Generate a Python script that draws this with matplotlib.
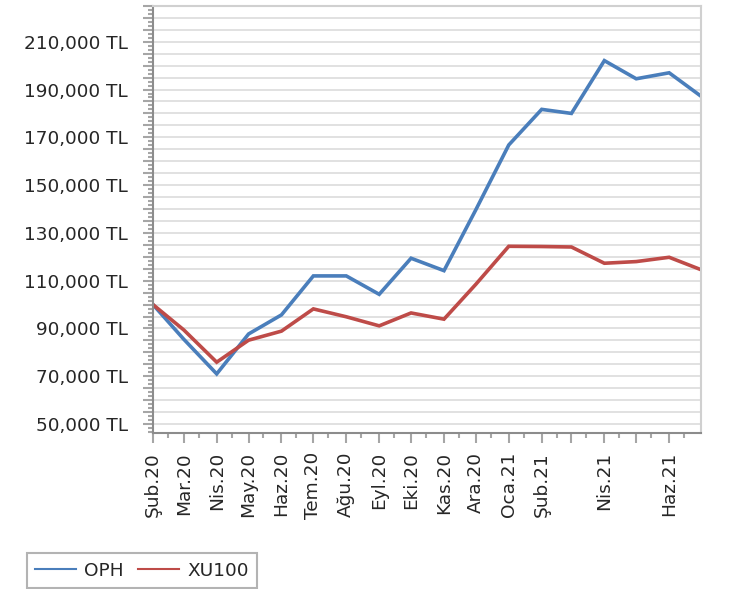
#!/usr/bin/env python3
"""OPH vs XU100 monthly performance, indexed to 100,000 TL."""

import matplotlib

matplotlib.use("Agg")

import matplotlib.dates as mdates
import matplotlib.pyplot as plt
import numpy as np
from matplotlib.ticker import FixedLocator, FuncFormatter, MultipleLocator

MONTHS = [
    "2020-02-01", "2020-03-01", "2020-04-01", "2020-05-01", "2020-06-01",
    "2020-07-01", "2020-08-01", "2020-09-01", "2020-10-01", "2020-11-01",
    "2020-12-01", "2021-01-01", "2021-02-01", "2021-03-01", "2021-04-01",
    "2021-05-01", "2021-06-01", "2021-07-01",
]
MONTH_LABELS = [
    "Şub.20", "Mar.20", "Nis.20", "May.20", "Haz.20", "Tem.20", "Ağu.20",
    "Eyl.20", "Eki.20", "Kas.20", "Ara.20", "Oca.21", "Şub.21", "",
    "Nis.21", "", "Haz.21",
]
OPH = [
    100000, 85500, 71000, 87700, 95700, 112000, 112000, 104300, 119400,
    114200, 139700, 166800, 181700, 180000, 202100, 194500, 197000, 187200,
]
XU100 = [
    100000, 89400, 75900, 85100, 88900, 98200, 94900, 91100, 96500,
    93900, 108500, 124400, 124300, 124100, 117300, 118000, 119800, 114600,
]

BLUE = "#4a7ebb"
RED = "#be4b48"
TEXT = "#262626"
FONT_SIZE = 13.3

plt.rcParams["font.family"] = ["DejaVu Sans"]

dates = np.array(MONTHS, dtype="datetime64[D]")
x = mdates.date2num(dates.astype("datetime64[s]").astype(object))

fig = plt.figure(figsize=(7.39, 5.89), dpi=100)
ax = fig.add_axes([0.207, 0.265, 0.7416, 0.725])

ax.plot(x, OPH, color=BLUE, lw=2.6, label="OPH", solid_joinstyle="miter")
ax.plot(x, XU100, color=RED, lw=2.6, label="XU100", solid_joinstyle="miter")

ax.set_xlim(x[0], x[-1])
ax.set_ylim(46300, 225000)

# y axis: gridline every 5,000, label every 20,000 starting at 50,000
ax.yaxis.set_major_locator(MultipleLocator(5000))
ax.yaxis.set_minor_locator(MultipleLocator(5000 / 3))
ax.yaxis.set_major_formatter(
    FuncFormatter(
        lambda v, pos: f"{int(round(v)):,} TL" if round(v - 50000) % 20000 == 0 else ""
    )
)
ax.grid(axis="y", which="major", color="#d9d9d9", lw=1.1)
ax.set_axisbelow(True)

# x axis: month starts, short ticks mid-month
ax.set_xticks(x[:-1], MONTH_LABELS, rotation=90, ha="center", va="top")
mid = mdates.date2num(
    (dates[:-1] + np.timedelta64(14, "D")).astype("datetime64[s]").astype(object)
)
ax.xaxis.set_minor_locator(FixedLocator(mid))

ax.tick_params(axis="both", which="major", color="#a6a6a6", width=1.5, length=7.2,
               labelsize=FONT_SIZE, labelcolor=TEXT)
ax.tick_params(axis="both", which="minor", color="#a6a6a6", width=1.5, length=3.6)
ax.tick_params(axis="x", which="major", pad=6.5)
ax.tick_params(axis="y", which="major", pad=10.8)

for side in ("left", "bottom"):
    ax.spines[side].set_color("#8c8c8c")
    ax.spines[side].set_linewidth(1.5)
for side in ("top", "right"):
    ax.spines[side].set_color("#d0d0d0")
    ax.spines[side].set_linewidth(1.5)

leg = fig.legend(
    handles=[
        plt.Line2D([], [], color=BLUE, lw=1.5),
        plt.Line2D([], [], color=RED, lw=1.5),
    ],
    labels=["OPH", "XU100"],
    loc="lower left",
    bbox_to_anchor=(0.036, 0.002),
    ncol=2,
    fontsize=FONT_SIZE,
    frameon=True,
    fancybox=False,
    handlelength=2.2,
    handletextpad=0.45,
    columnspacing=0.8,
    borderpad=0.45,
    borderaxespad=0,
)
leg.get_frame().set_edgecolor("#a0a0a0")
leg.get_frame().set_linewidth(1.5)
for t in leg.get_texts():
    t.set_color(TEXT)

fig.savefig("out.png", dpi=100)
